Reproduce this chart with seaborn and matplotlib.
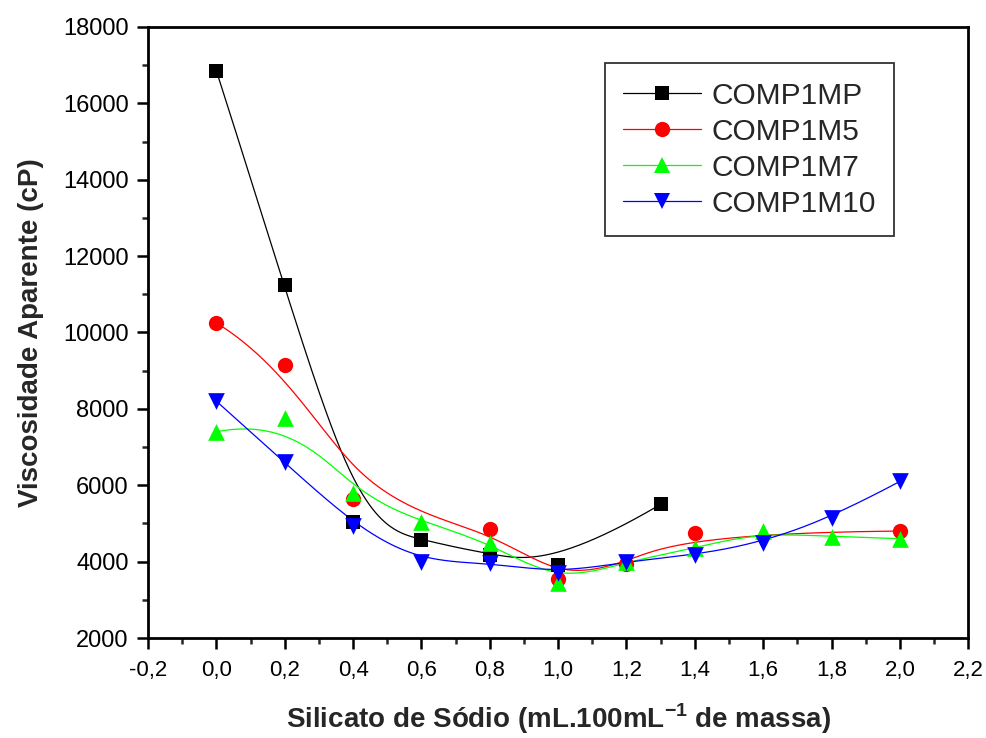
import numpy as np
import pandas as pd
import seaborn as sns
import matplotlib
matplotlib.use("Agg")
import matplotlib.pyplot as plt
from matplotlib.lines import Line2D
from matplotlib.ticker import MultipleLocator, FuncFormatter

# Sodium silicate dosage (mL per 100 mL of slip) and apparent viscosity (cP)
x_mp = [0.0, 0.2, 0.4, 0.6, 0.8, 1.0, 1.3]
y_mp = [16850, 11250, 5050, 4570, 4180, 3920, 5500]

x_m5 = [0.0, 0.2, 0.4, 0.8, 1.0, 1.2, 1.4, 2.0]
y_m5 = [10250, 9150, 5650, 4850, 3550, 3950, 4750, 4800]

x_m7 = [0.0, 0.2, 0.4, 0.6, 0.8, 1.0, 1.2, 1.4, 1.6, 1.8, 2.0]
y_m7 = [7400, 7750, 5800, 5050, 4500, 3450, 4000, 4350, 4800, 4650, 4600]

x_m10 = [0.0, 0.2, 0.4, 0.6, 0.8, 1.0, 1.2, 1.4, 1.6, 1.8, 2.0]
y_m10 = [8200, 6600, 4920, 4000, 3970, 3700, 4000, 4180, 4500, 5150, 6100]

series_names = ["COMP1MP", "COMP1M5", "COMP1M7", "COMP1M10"]
x_ticks = [-0.2, 0.0, 0.2, 0.4, 0.6, 0.8, 1.0, 1.2, 1.4, 1.6, 1.8, 2.0, 2.2]
y_ticks = [2000, 4000, 6000, 8000, 10000, 12000, 14000, 16000, 18000]


def bspline(px, py, n=400, k=3):
    """Clamped uniform B-spline using the data points as control points."""
    px = np.asarray(px, float)
    py = np.asarray(py, float)
    m = len(px)
    k = min(k, m - 1)
    inner = np.arange(1, m - k)
    knots = np.concatenate([np.zeros(k + 1), inner, np.full(k + 1, m - k)]).astype(float)
    t = np.linspace(0, m - k, n)
    t[-1] -= 1e-9
    # Cox-de Boor recursion
    B = np.zeros((n, len(knots) - 1))
    for i in range(len(knots) - 1):
        B[:, i] = (knots[i] <= t) & (t < knots[i + 1])
    for d in range(1, k + 1):
        Bn = np.zeros((n, len(knots) - 1 - d))
        for i in range(len(knots) - 1 - d):
            a = knots[i + d] - knots[i]
            b = knots[i + d + 1] - knots[i + 1]
            left = (t - knots[i]) / a * B[:, i] if a > 0 else 0
            right = (knots[i + d + 1] - t) / b * B[:, i + 1] if b > 0 else 0
            Bn[:, i] = left + right
        B = Bn
    return B @ px, B @ py


sns.set_theme(style="ticks")
plt.rcParams["font.family"] = ["Liberation Sans", "DejaVu Sans"]

fig = plt.figure(figsize=(9.87, 7.38), dpi=100)
ax = fig.add_axes([0.150, 0.1355, 0.831, 0.828])

styles = [
    ("#000000", "s", 10),
    ("#ff0000", "o", 11),
    ("#00ff00", "^", 12),
    ("#0000ff", "v", 12),
]
data = [(x_mp, y_mp), (x_m5, y_m5), (x_m7, y_m7), (x_m10, y_m10)]

handles = []
for name, (xs, ys), (col, mk, ms) in zip(series_names, data, styles):
    sx, sy = bspline(xs, ys)
    curve = pd.DataFrame({"x": sx, "y": sy})
    sns.lineplot(data=curve, x="x", y="y", sort=False, color=col, lw=0.9,
                 ax=ax, estimator=None)
    handles.append(Line2D([], [], color=col, lw=0.9, marker=mk, ms=ms,
                          markeredgewidth=0))

for name, (xs, ys), (col, mk, ms) in zip(series_names, data, styles):
    pts = pd.DataFrame({"x": xs, "y": ys})
    sns.scatterplot(data=pts, x="x", y="y", marker=mk, s=ms ** 2, color=col,
                    linewidth=0, ax=ax, zorder=3)

ax.set_xlim(-0.2, 2.2)
ax.set_ylim(2000, 18000)
ax.set_xticks(x_ticks)
ax.set_yticks(y_ticks)
ax.xaxis.set_minor_locator(MultipleLocator(0.1))
ax.yaxis.set_minor_locator(MultipleLocator(1000))
ax.xaxis.set_major_formatter(FuncFormatter(lambda v, p: f"{v:.1f}".replace(".", ",").replace("-0,0", "0,0")))
ax.yaxis.set_major_formatter(FuncFormatter(lambda v, p: f"{int(round(v))}"))

for s in ax.spines.values():
    s.set_linewidth(2.0)
    s.set_color("black")
ax.tick_params(which="major", direction="out", length=8, width=1.8,
               colors="black", top=False, right=False)
ax.tick_params(which="minor", direction="out", length=4.5, width=1.8,
               top=False, right=False)
ax.tick_params(axis="x", labelsize=16, pad=8)
ax.tick_params(axis="y", labelsize=17, pad=6)

ax.set_xlabel("Silicato de Sódio (mL.100mL$^{\\mathregular{-1}}$ de massa)",
              fontsize=20, fontweight="bold")
ax.set_ylabel("Viscosidade Aparente (cP)", fontsize=20, fontweight="bold")
ax.xaxis.set_label_coords(0.5, -0.104)
ax.yaxis.set_label_coords(-0.127, 0.5)

leg = ax.legend(handles, series_names, loc="upper left",
                bbox_to_anchor=(0.557, 0.941), borderaxespad=0,
                fontsize=21.5, frameon=True, fancybox=False, handlelength=2.6,
                handletextpad=0.35, labelspacing=0.27, borderpad=0.62)
leg.get_frame().set_edgecolor("black")
leg.get_frame().set_linewidth(1.3)

fig.savefig("out.png", dpi=100)
